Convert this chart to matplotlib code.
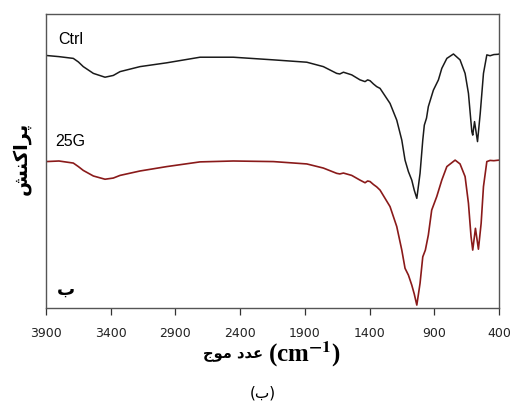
import matplotlib
matplotlib.use("Agg")
import matplotlib.pyplot as plt

plt.rcParams["mathtext.fontset"] = "stix"

# ── data (transmittance in a.u.) ─────────────────────────────────────────────
wn = [3900, 3800, 3689, 3650, 3612, 3534, 3444, 3380, 3328, 3174, 2967, 2710,
      2453, 2143, 1885, 1757, 1654, 1630, 1602, 1538, 1474, 1435, 1415, 1396,
      1370, 1345, 1319, 1242, 1190, 1151, 1126, 1100, 1074, 1055, 1035, 1010,
      989, 977, 960, 946, 907, 868, 842, 803, 752, 701, 662, 636, 610, 603,
      589, 566, 545, 520, 494, 469, 440, 405, 400]
ctrl = [85.9, 85.5, 84.9, 83.7, 82.1, 79.8, 78.5, 79.1, 80.4, 82.1, 83.4, 85.3,
        85.3, 84.4, 83.6, 82.1, 79.8, 79.6, 80.2, 79.3, 77.6, 77.0, 77.6, 77.3,
        76.2, 75.3, 74.7, 69.6, 63.9, 57.1, 50.3, 46.4, 43.5, 40.1, 37.3, 45.8,
        57.1, 62.2, 64.6, 68.5, 74.1, 77.6, 81.5, 84.9, 86.4, 84.4, 79.8, 73.0,
        60.0, 58.8, 63.4, 56.6, 66.2, 79.8, 86.1, 85.8, 86.2, 86.3, 86.4]

wn_g = [3900, 3800, 3689, 3650, 3612, 3534, 3444, 3380, 3328, 3174, 2967, 2710,
        2453, 2143, 1885, 1757, 1654, 1630, 1602, 1538, 1474, 1435, 1415, 1396,
        1370, 1345, 1319, 1242, 1190, 1151, 1126, 1100, 1074, 1055, 1035, 1010,
        989, 969, 946, 920, 881, 842, 803, 739, 701, 662, 636, 616, 603, 582,
        559, 538, 520, 494, 469, 440, 400]
g25 = [49.8, 50.0, 49.3, 48.1, 46.8, 44.9, 43.8, 44.2, 45.1, 46.6, 48.1, 49.7,
       50.0, 49.8, 49.0, 47.6, 45.8, 45.6, 45.9, 45.1, 43.5, 42.6, 43.2, 43.0,
       42.0, 41.2, 40.1, 34.5, 27.7, 19.7, 13.5, 11.2, 7.8, 4.8, 1.0, 8.4,
       17.4, 19.7, 24.8, 33.3, 37.9, 43.5, 48.1, 50.3, 49.0, 44.7, 35.6, 24.3,
       19.7, 27.1, 20.0, 28.8, 41.3, 49.8, 50.2, 50.1, 50.3]

xticks = [3900, 3400, 2900, 2400, 1900, 1400, 900, 400]

# Persian text in presentation forms, visual (left-to-right) order
YLABEL = "\uFEB6\uFEE8\uFB90\uFE8D\uFEAE\uFB58"          # پراکنش
XLABEL_FA = "\uFE9D\uFEEE\uFEE3 \uFEA9\uFEAA\uFECB"       # عدد موج
PANEL = "\uFE8F"                                          # ب

W, H = 515, 407
fig = plt.figure(figsize=(W / 100, H / 100), dpi=100)
ax = fig.add_axes([46 / W, 1 - 308 / H, 453 / W, 294 / H])

ax.plot(wn, ctrl, color="#1a1a1a", linewidth=1.1)
ax.plot(wn_g, g25, color="#8a1a1a", linewidth=1.2)

ax.set_xlim(3900, 400)
ax.set_ylim(0, 100)
ax.set_xticks(xticks)
ax.set_xticklabels([str(t) for t in xticks], fontsize=9, family="DejaVu Sans")
ax.set_yticks([])
ax.tick_params(axis="x", direction="out", length=5, width=0.9, colors="#333333",
               pad=9, labelcolor="#222222")
for s in ax.spines.values():
    s.set_color("#555555")
    s.set_linewidth(1.0)

def px(x, y):
    return x / W, 1 - y / H

fig.text(*px(58, 39), "Ctrl", fontsize=11.5, family="Liberation Sans",
         va="center", ha="left")
fig.text(*px(55, 142), "25G", fontsize=11.5, family="Liberation Sans",
         va="center", ha="left")
fig.text(*px(66, 290), PANEL, fontsize=13, family="DejaVu Sans",
         weight="bold", va="center", ha="center")

fig.text(*px(21, 158), YLABEL, fontsize=14, family="DejaVu Sans",
         weight="bold", rotation=90, va="center", ha="center")

# x label: Persian part + (cm^-1)
fig.text(*px(263, 355), XLABEL_FA, fontsize=10.5, family="DejaVu Sans",
         weight="bold", va="center", ha="right")
fig.text(*px(268, 354), r"(cm$^{\mathbf{-1}}$)", fontsize=18,
         family="Liberation Serif", weight="bold", va="center", ha="left")

fig.text(*px(263, 393), "(" + PANEL + ")", fontsize=11, family="DejaVu Sans",
         va="center", ha="center")

fig.savefig("out.png", dpi=100)
